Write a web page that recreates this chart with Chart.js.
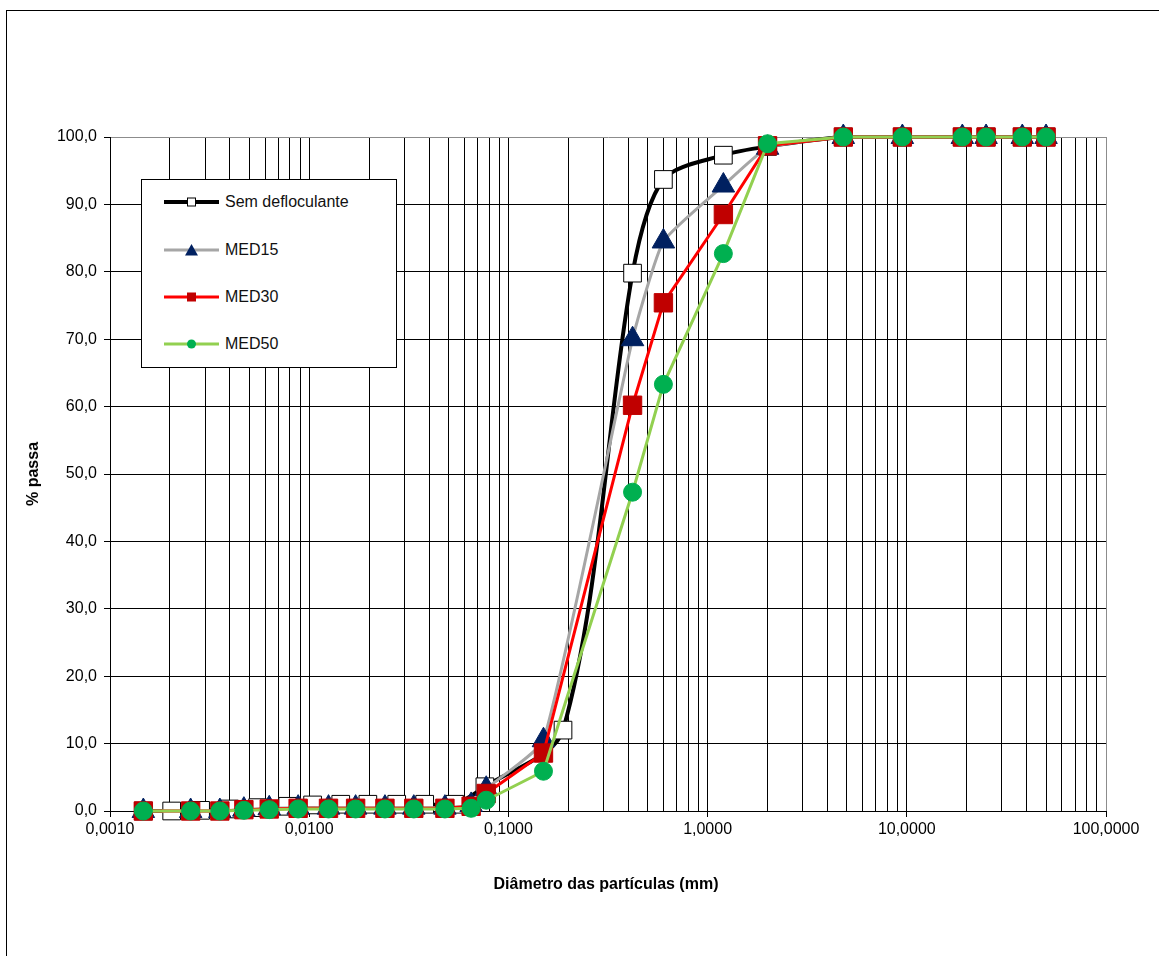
<!DOCTYPE html>
<html>
<head>
<meta charset="utf-8">
<title>Curva granulométrica</title>
<script src="https://cdn.jsdelivr.net/npm/chart.js@4.4.1/dist/chart.umd.min.js"></script>
<style>
  body { margin: 0; background: #fff; font-family: "Liberation Sans", Arial, sans-serif; }
  #wrap { position: relative; width: 1159px; height: 956px; overflow: hidden; }
  #frame { position: absolute; left: 6px; top: 10px; width: 1200px; height: 1000px; border: 1px solid #000; box-sizing: border-box; }
  #chart { position: absolute; left: 0; top: 0; }
  .title { position: absolute; font-weight: bold; font-size: 16px; color: #000; white-space: nowrap; }
  #ytitle { left: 33px; top: 474px; transform: translate(-50%, -50%) rotate(-90deg); }
  #xtitle { left: 606px; top: 884px; transform: translate(-50%, -50%); }
  #legend { position: absolute; left: 141px; top: 179px; width: 256px; height: 189px; border: 1px solid #000; background: #fff; box-sizing: border-box; }
  .row { position: absolute; left: 21px; height: 20px; display: flex; align-items: center; font-size: 16px; color: #111; }
  .row svg { margin-right: 4px; }
</style>
</head>
<body>
<div id="wrap">
  <div id="frame"></div>
  <canvas id="chart" width="1159" height="956"></canvas>
  <div class="title" id="ytitle">% passa</div>
  <div class="title" id="xtitle">Diâmetro das partículas (mm)</div>
  <div id="legend"></div>
</div>
<script>
  'use strict';

  // diametros (mm) e % passante
  var diamSem = [0.00147, 0.00204, 0.00285, 0.00398, 0.00551, 0.0078, 0.0104, 0.0144, 0.0197, 0.0275, 0.038, 0.0538, 0.0762, 0.188,
                 0.42, 0.6, 1.2, 2.0, 4.8, 9.5, 19, 25, 38, 50];
  var passSem = [0, 0, 0.1, 0.3, 0.5, 0.7, 0.9, 1.0, 1.0, 1.0, 1.0, 1.0, 3.6, 12.0,
                 79.8, 93.7, 97.3, 98.6, 100, 100, 100, 100, 100, 100];

  var diamMed = [0.00147, 0.00254, 0.00356, 0.0047, 0.0063, 0.0088, 0.0125, 0.0171, 0.024, 0.0335, 0.048, 0.065, 0.0774, 0.15,
                 0.42, 0.6, 1.2, 2.0, 4.8, 9.5, 19, 25, 38, 50];
  var passMed15 = [0, 0, 0, 0.2, 0.4, 0.5, 0.5, 0.5, 0.5, 0.5, 0.5, 0.9, 3.3, 10.5,
                   70.0, 84.5, 92.8, 98.4, 100, 100, 100, 100, 100, 100];
  var passMed30 = [0, 0, 0, 0.2, 0.3, 0.4, 0.4, 0.4, 0.4, 0.4, 0.4, 0.7, 2.6, 8.6,
                   60.2, 75.4, 88.5, 98.7, 100, 100, 100, 100, 100, 100];
  var passMed50 = [0, 0, 0, 0.1, 0.2, 0.3, 0.3, 0.3, 0.3, 0.3, 0.3, 0.4, 1.6, 5.9,
                   47.3, 63.3, 82.7, 99.0, 100, 100, 100, 100, 100, 100];

  var seriesNames = ['Sem defloculante', 'MED15', 'MED30', 'MED50'];

  var xDecades = [0.001, 0.01, 0.1, 1, 10, 100];
  var xTickLabels = ['0,0010', '0,0100', '0,1000', '1,0000', '10,0000', '100,0000'];

  var fontFamily = '"Liberation Sans", Arial, sans-serif';

  function toPoints(xs, ys) {
    return xs.map(function (x, i) { return { x: x, y: ys[i] }; });
  }

  function isDecade(v) {
    var l = Math.log10(v);
    return Math.abs(l - Math.round(l)) < 1e-9;
  }

  // linhas de grade 1..9 de cada decada
  var xGridValues = [];
  xDecades.forEach(function (d, i) {
    if (i === xDecades.length - 1) { xGridValues.push(d); return; }
    for (var m = 1; m <= 9; m++) { xGridValues.push(m * d); }
  });

  var datasets = [
    {
      label: seriesNames[0], data: toPoints(diamSem, passSem),
      borderColor: '#000000', borderWidth: 4, tension: 0.3,
      pointStyle: 'rect', pointRadius: 12.5, pointBackgroundColor: '#ffffff', pointBorderColor: '#000000', pointBorderWidth: 1,
      order: 4
    },
    {
      label: seriesNames[1], data: toPoints(diamMed, passMed15),
      borderColor: '#a6a6a6', borderWidth: 3, tension: 0.15,
      pointStyle: 'triangle', pointRadius: 13, pointBackgroundColor: '#002060', pointBorderColor: '#002060', pointBorderWidth: 1,
      order: 3
    },
    {
      label: seriesNames[2], data: toPoints(diamMed, passMed30),
      borderColor: '#ff0000', borderWidth: 3,
      pointStyle: 'rect', pointRadius: 13, pointBackgroundColor: '#c00000', pointBorderColor: '#c00000', pointBorderWidth: 1,
      order: 2
    },
    {
      label: seriesNames[3], data: toPoints(diamMed, passMed50),
      borderColor: '#92d050', borderWidth: 3,
      pointStyle: 'circle', pointRadius: 9, pointBackgroundColor: '#00b050', pointBorderColor: '#00b050', pointBorderWidth: 1,
      order: 1
    }
  ];

  var ctx = document.getElementById('chart').getContext('2d');
  window.granChart = new Chart(ctx, {
    type: 'line',
    data: { datasets: datasets },
    options: {
      responsive: false,
      animation: false,
      clip: false,
      layout: { padding: { top: 137, right: 53, left: 0, bottom: 0 } },
      plugins: { legend: { display: false }, tooltip: { enabled: false } },
      scales: {
        x: {
          type: 'logarithmic', min: 0.001, max: 100,
          afterBuildTicks: function (axis) {
            axis.ticks = xGridValues.map(function (v) { return { value: v, major: isDecade(v) }; });
          },
          afterFit: function (axis) { axis.height = 145; },
          ticks: {
            autoSkip: false, maxRotation: 0, minRotation: 0, padding: 3, color: '#000',
            font: { size: 16, family: fontFamily },
            callback: function (v) {
              var i = xDecades.findIndex(function (d) { return Math.abs(Math.log10(d) - Math.log10(v)) < 1e-9; });
              return i >= 0 ? xTickLabels[i] : '';
            }
          },
          grid: {
            lineWidth: 1,
            color: function (c) { return c.tick && c.tick.value >= 99.99 ? '#8c8c8c' : '#000'; },
            tickLength: 6,
            tickColor: function (c) { return c.tick && isDecade(c.tick.value) ? '#000' : 'rgba(0,0,0,0)'; }
          },
          border: { color: '#000', width: 1 }
        },
        y: {
          min: 0, max: 100,
          afterFit: function (axis) { axis.width = 110; },
          ticks: {
            stepSize: 10, padding: 7, color: '#000',
            font: { size: 16, family: fontFamily },
            callback: function (v) { return v.toFixed(1).replace('.', ','); }
          },
          grid: {
            lineWidth: 1,
            color: function (c) { return c.tick && c.tick.value === 100 ? '#8c8c8c' : '#000'; },
            tickLength: 6, tickColor: '#000'
          },
          border: { color: '#000', width: 1 }
        }
      }
    }
  });

  // legenda em HTML com as mesmas cores das series
  function legendSvg(ds) {
    var s = '<svg width="58" height="14" viewBox="0 0 58 14">';
    s += '<line x1="1" y1="7" x2="56" y2="7" stroke="' + ds.borderColor + '" stroke-width="' + ds.borderWidth + '"/>';
    if (ds.pointStyle === 'rect' && ds.pointBackgroundColor === '#ffffff') {
      s += '<rect x="24.5" y="3" width="8" height="8" fill="#fff" stroke="#000" stroke-width="1"/>';
    } else if (ds.pointStyle === 'rect') {
      s += '<rect x="24" y="2.5" width="9" height="9" fill="' + ds.pointBackgroundColor + '"/>';
    } else if (ds.pointStyle === 'triangle') {
      s += '<polygon points="28.5,1 35,12.5 22,12.5" fill="' + ds.pointBackgroundColor + '"/>';
    } else {
      s += '<circle cx="28.5" cy="7" r="4.5" fill="' + ds.pointBackgroundColor + '"/>';
    }
    return s + '</svg>';
  }

  var legendRowsTop = [12, 60, 107, 154];
  var legendEl = document.getElementById('legend');
  datasets.forEach(function (ds, i) {
    var row = document.createElement('div');
    row.className = 'row';
    row.style.top = legendRowsTop[i] + 'px';
    row.innerHTML = legendSvg(ds) + '<span>' + ds.label + '</span>';
    legendEl.appendChild(row);
  });
</script>
</body>
</html>
